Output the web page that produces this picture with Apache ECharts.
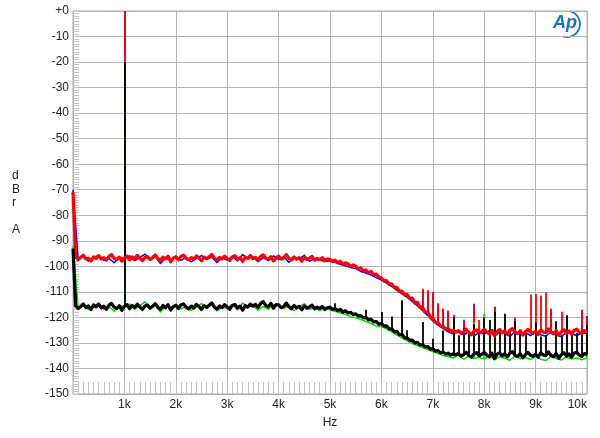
<!DOCTYPE html>
<html>
<head>
<meta charset="utf-8">
<script src="https://cdn.jsdelivr.net/npm/echarts@6.0.0/dist/echarts.min.js"></script>
<style>
	html, body {margin: 0; padding: 0; background: #fff;}
	#chart {width: 600px; height: 438px;}
</style>
</head>
<body>
<div id="chart"></div>
<script>
// 采样间隔 (Hz)
var redStep = 50
var blueStep = 100
var blackStep = 50
var greenStep = 100

// 上面一组噪声 (红/蓝)
var redDb = [
	-71, -96.2, -97.4, -96.5, -95.6, -97.1, -96.8, -97.9, -96.3, -96.9,
	-95.8, -97.2, -96.6, -97.6, -96.1, -95.4, -96.9, -97.3, -96.4, -98.0,
	-96.7, -96.0, -97.5, -96.3, -97.0, -95.7, -96.8, -97.8, -96.5, -96.2,
	-97.3, -96.6, -95.5, -96.9, -97.7, -96.4, -97.1, -96.0, -98.2, -96.8,
	-96.3, -97.4, -96.1, -95.6, -96.9, -97.5, -96.6, -97.2, -95.9, -96.7,
	-97.8, -96.4, -97.0, -96.2, -95.3, -96.8, -97.6, -96.5, -97.1, -96.0,
	-96.9, -97.7, -96.3, -95.8, -97.2, -96.6, -98.1, -96.4, -96.9, -95.7,
	-97.0, -96.5, -97.6, -96.1, -95.5, -96.8, -97.3, -96.2, -97.9, -96.6,
	-96.0, -97.1, -96.7, -95.4, -96.9, -97.5, -96.3, -97.2, -96.6, -98.0,
	-96.5, -97.3, -96.8, -96.1, -97.6, -96.9, -97.4, -96.6, -97.8, -97.1,
	-97.3, -98.1, -97.6, -98.6, -98.0, -99.2, -98.6, -99.0, -100.1, -99.4,
	-100.0, -101.1, -100.6, -101.9, -101.4, -102.6, -102.0, -103.3, -103.0, -104.2,
	-104.6, -105.7, -105.6, -107.0, -106.9, -108.3, -108.2, -109.8, -109.7, -111.2,
	-111.0, -112.6, -112.4, -114.4, -114.1, -116.1, -116.0, -118.0, -117.8, -119.9,
	-120.3, -121.9, -122.0, -123.4, -123.5, -124.6, -124.4, -125.5, -125.1, -125.8,
	-125.2, -126.3, -125.7, -124.6, -125.9, -126.8, -125.4, -124.9, -126.1, -125.6,
	-124.7, -125.8, -126.5, -125.1, -127.2, -125.5, -124.8, -126.0, -125.3, -126.6,
	-125.0, -124.4, -125.9, -126.3, -125.2, -126.9, -125.6, -124.7, -125.8, -126.2,
	-125.4, -126.7, -124.9, -125.7, -126.0, -124.5, -125.9, -126.4, -125.1, -127.0,
	-125.6, -124.8, -126.2, -125.3, -126.6, -125.0, -124.6, -125.8, -126.3, -125.2,
	-125.5
]
var blueDb = [
	-70, -97.2, -96.1, -98.0, -96.5, -95.6, -97.6, -96.9, -98.6, -96.4,
	-97.0, -95.9, -97.8, -96.6, -95.2, -97.3, -96.2, -98.9, -96.8, -97.4,
	-96.0, -97.7, -96.5, -98.3, -96.9, -95.8, -97.2, -96.4, -98.5, -96.7,
	-97.5, -96.1, -97.9, -95.4, -97.0, -96.3, -98.2, -96.6, -97.8, -95.9,
	-97.3, -96.2, -98.4, -96.8, -97.1, -95.7, -98.0, -97.0, -97.5, -98.1,
	-97.8, -98.4, -99.2, -99.8, -100.5, -100.9, -102.0, -102.6, -103.4, -104.4,
	-105.4, -106.6, -107.9, -109.3, -110.8, -112.1, -113.7, -115.4, -117.3, -119.2,
	-121.4, -123.0, -124.3, -125.7, -126.4, -125.1, -126.9, -125.6, -127.2, -125.9,
	-126.6, -125.2, -127.3, -125.8, -126.2, -127.5, -125.5, -126.9, -125.9, -127.1,
	-125.7, -126.8, -127.4, -125.4, -126.5, -127.6, -125.8, -126.3, -127.2, -125.9,
	-126.4
]

// 下面一组噪声 (黑/绿)
var blackDb = [
	-93, -115.4, -116.5, -115.8, -114.7, -116.2, -115.5, -116.9, -115.1, -115.9,
	-114.8, -116.3, -115.6, -116.8, -115.2, -114.5, -116.0, -116.6, -115.4, -117.2,
	-115.7, -115.0, -116.6, -115.3, -116.1, -114.8, -115.9, -116.9, -115.5, -115.2,
	-116.4, -115.6, -114.6, -116.0, -116.8, -115.3, -116.2, -115.0, -117.1, -115.8,
	-115.3, -116.5, -115.1, -114.7, -116.0, -116.7, -115.6, -116.3, -114.9, -115.7,
	-116.9, -115.4, -116.1, -115.2, -114.3, -115.9, -116.7, -115.5, -116.2, -115.0,
	-115.9, -116.8, -115.3, -114.9, -116.3, -115.6, -117.2, -115.4, -116.0, -114.8,
	-115.6, -114.9, -116.1, -114.6, -113.8, -115.3, -115.9, -114.5, -116.4, -115.0,
	-115.1, -116.2, -115.7, -114.4, -116.0, -116.6, -115.3, -116.3, -115.7, -117.0,
	-115.5, -116.4, -115.9, -115.2, -116.7, -116.0, -116.5, -115.7, -116.9, -116.2,
	-116.0, -116.9, -116.5, -117.3, -116.9, -117.9, -117.4, -118.3, -118.0, -118.9,
	-118.6, -119.5, -119.3, -120.2, -120.0, -121.0, -120.8, -121.8, -121.6, -122.7,
	-122.3, -123.4, -123.3, -124.5, -124.4, -125.6, -125.5, -126.8, -126.6, -128.0,
	-128.0, -129.0, -128.9, -130.0, -129.8, -130.8, -130.6, -131.6, -131.4, -132.4,
	-132.3, -133.2, -133.0, -133.9, -133.5, -134.4, -134.0, -134.8, -134.2, -134.6,
	-134.1, -135.2, -134.6, -133.6, -134.9, -135.6, -134.3, -133.8, -135.0, -134.5,
	-133.7, -134.8, -135.5, -134.0, -136.1, -134.4, -133.9, -135.1, -134.2, -135.4,
	-134.0, -133.4, -134.9, -135.3, -134.2, -135.8, -134.6, -133.7, -134.8, -135.2,
	-134.4, -135.6, -133.9, -134.7, -135.0, -133.5, -134.9, -135.4, -134.1, -136.0,
	-134.6, -133.8, -135.2, -134.3, -135.6, -134.0, -133.6, -134.8, -135.3, -134.2,
	-134.5
]
var greenDb = [
	-92, -116.2, -115.1, -117.0, -115.5, -114.4, -116.8, -115.8, -117.6, -115.2,
	-116.0, -114.8, -116.9, -115.4, -113.9, -116.4, -115.3, -117.9, -115.7, -116.3,
	-114.9, -116.7, -115.6, -117.3, -115.9, -114.6, -116.2, -115.1, -117.5, -115.8,
	-116.5, -115.0, -117.1, -114.3, -116.0, -115.4, -117.2, -115.7, -116.8, -114.9,
	-115.3, -116.6, -115.0, -117.4, -115.8, -114.7, -116.9, -116.1, -117.3, -116.0,
	-117.1, -117.6, -118.3, -118.9, -119.7, -120.1, -120.8, -121.6, -122.4, -123.4,
	-123.5, -124.6, -125.7, -126.9, -128.0, -129.2, -130.2, -131.0, -131.8, -132.6,
	-133.4, -134.2, -134.9, -135.3, -135.9, -134.8, -136.4, -135.2, -136.1, -135.6,
	-136.3, -135.0, -136.6, -135.4, -136.0, -136.8, -135.1, -136.2, -135.7, -136.5,
	-135.3, -136.4, -136.9, -135.2, -136.1, -136.7, -135.5, -136.3, -135.9, -136.6,
	-135.8
]

// 谐波/杂散尖峰
var redSpikeHz = [1000, 6800, 6900, 7000, 7100, 7200, 7300, 7400, 7600, 7800, 7900, 8200, 8600, 8900, 9000, 9100, 9200, 9300, 9500, 9900, 10000]
var redSpikeDb = [0, -108.8, -109.4, -110, -114.5, -116.5, -117.3, -119, -121.5, -116, -121, -115.7, -120, -111, -110.8, -111.4, -110.2, -116.5, -117.8, -117.3, -120]
var blueSpikeHz = [1000, 6800, 6900, 7000, 7100, 7200, 7300, 7600, 7800, 8200, 8600, 9300, 9900, 10000]
var blueSpikeDb = [0, -109.5, -110, -111, -115, -117, -118, -120.9, -114.7, -116, -120.5, -117, -117, -119.5]
var blackSpikeHz = [50, 1000, 5100, 5700, 6000, 6200, 6400, 6500, 6800, 7000, 7200, 7400, 7500, 7600, 7700, 7800, 7900, 8000, 8100, 8200, 8300, 8400, 8500, 8600, 8700, 8800, 9000, 9100, 9200, 9400, 9500, 9600, 9700, 9800, 9900, 10000]
var blackSpikeDb = [-109.4, -20, -114.5, -117, -117.9, -119.6, -113.3, -125, -121.8, -128.4, -125.1, -119.9, -127, -124.3, -126.3, -122.7, -125.7, -120, -121, -117.9, -124.3, -118.6, -124.6, -121.4, -125, -126.3, -122.1, -127.5, -127, -121.5, -126.8, -119.2, -125.5, -126.1, -126.3, -122.9]
var greenSpikeHz = [1000, 6400, 7400, 7800, 8000, 8200, 8400, 9600, 10000]
var greenSpikeDb = [-20, -114, -120.5, -122, -118.6, -118.5, -119, -119.5, -123]

var yTicks = ['+0', '-10', '-20', '-30', '-40', '-50', '-60', '-70', '-80', '-90', '-100', '-110', '-120', '-130', '-140', '-150']
var xTicks = ['', '1k', '2k', '3k', '4k', '5k', '6k', '7k', '8k', '9k', '10k']

var fontName = 'Liberation Sans, Arial, sans-serif'

//采样点 -> 折线数据
function toPairs(step, vals) {
	var out = []
	for (var i = 0; i < vals.length; i++) {
		out.push([i * step, vals[i]])
	}
	return out
}

//尖峰: 从该频点的噪声值画到峰顶
function toSpikes(step, vals, spikeHz, spikeDb) {
	var out = []
	for (var k = 0; k < spikeHz.length; k++) {
		var base = vals[Math.round(spikeHz[k] / step)]
		out.push({coords: [[spikeHz[k], base], [spikeHz[k], spikeDb[k]]]})
	}
	return out
}

function trace(color, width, data) {
	return {
		type: 'line',
		data: data,
		showSymbol: false,
		symbol: 'none',
		animation: false,
		lineStyle: {color: color, width: width, join: 'round'}
	}
}

function spikes(color, width, data) {
	return {
		type: 'lines',
		coordinateSystem: 'cartesian2d',
		data: data,
		animation: false,
		silent: true,
		lineStyle: {color: color, width: width, opacity: 1, curveness: 0}
	}
}

var chart = echarts.init(document.getElementById('chart'), null, {renderer: 'canvas'})

chart.setOption({
	backgroundColor: '#fff',
	animation: false,
	textStyle: {fontFamily: fontName},
	grid: {left: 73, right: 13, top: 11, bottom: 44, show: true, borderColor: '#a8a8a8', borderWidth: 1},
	xAxis: {
		type: 'value',
		min: 0,
		max: 10000,
		interval: 1000,
		name: 'Hz',
		nameLocation: 'middle',
		nameGap: 23,
		nameTextStyle: {color: '#222', fontSize: 12, fontFamily: fontName},
		axisLine: {show: true, onZero: false, lineStyle: {color: '#a8a8a8'}},
		axisTick: {show: true, inside: true, length: 12, lineStyle: {color: '#c4c4c4'}},
		minorTick: {show: true, splitNumber: 10, length: 12, lineStyle: {color: '#c4c4c4'}},
		splitLine: {show: true, lineStyle: {color: '#b4b4b4', width: 1}},
		axisLabel: {
			color: '#222', fontSize: 12, margin: 5, fontFamily: fontName,
			showMinLabel: false, alignMaxLabel: 'right',
			formatter: function(v) { return xTicks[Math.round(v / 1000)] }
		}
	},
	yAxis: {
		type: 'value',
		min: -150,
		max: 0,
		interval: 10,
		axisLine: {show: true, onZero: false, lineStyle: {color: '#a8a8a8'}},
		axisTick: {show: true, inside: true, length: 6, lineStyle: {color: '#c4c4c4'}},
		minorTick: {show: true, splitNumber: 10, length: 6, lineStyle: {color: '#c4c4c4'}},
		splitLine: {show: true, lineStyle: {color: '#b4b4b4', width: 1}},
		axisLabel: {
			color: '#222', fontSize: 12, margin: 4, fontFamily: fontName,
			formatter: function(v) { return yTicks[Math.round(-v / 10)] }
		}
	},
	graphic: [
		{
			type: 'text', left: 12, top: 169,
			style: {text: 'd\nB\nr\n\nA', fill: '#222', font: '12px ' + fontName, lineHeight: 13.5, align: 'center'}
		},
		{
			type: 'text', left: 553, top: 14,
			style: {text: 'Ap', fill: '#1b74bd', font: 'italic bold 18px ' + fontName}
		},
		{
			type: 'arc',
			shape: {cx: 567, cy: 24, r: 13, startAngle: -Math.PI * 0.42, endAngle: Math.PI * 0.6, clockwise: true},
			style: {stroke: '#1b74bd', lineWidth: 1.8, fill: null}
		}
	],
	series: [
		trace('#0000ff', 1.5, toPairs(blueStep, blueDb)),
		spikes('#0000ff', 1.6, toSpikes(blueStep, blueDb, blueSpikeHz, blueSpikeDb)),
		trace('#ff0000', 3.2, toPairs(redStep, redDb)),
		spikes('#ff0000', 1.8, toSpikes(redStep, redDb, redSpikeHz, redSpikeDb)),
		trace('#00e000', 1.5, toPairs(greenStep, greenDb)),
		spikes('#00e000', 1.6, toSpikes(greenStep, greenDb, greenSpikeHz, greenSpikeDb)),
		trace('#000000', 3.2, toPairs(blackStep, blackDb)),
		spikes('#000000', 1.8, toSpikes(blackStep, blackDb, blackSpikeHz, blackSpikeDb))
	]
})
</script>
</body>
</html>
